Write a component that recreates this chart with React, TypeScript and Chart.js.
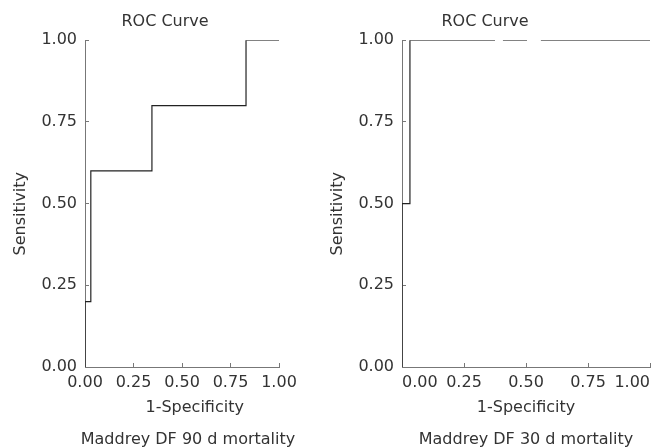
import React, { useEffect, useRef } from "react";
import { Chart, registerables } from "chart.js";

Chart.register(...registerables);

// ---- data ----
const tickValues = [0, 0.25, 0.5, 0.75, 1];
const tickLabels = ["0.00", "0.25", "0.50", "0.75", "1.00"];

// Left panel: Maddrey DF 90 d mortality
const fpr90 = [0, 0, 0.03, 0.345, 0.83, 1];
const tpr90 = [0, 0.2, 0.6, 0.8, 1, 1];

// Right panel: Maddrey DF 30 d mortality (gaps seen in the printed line)
const fpr30 = [0, 0, 0.032, 0.375, 0.39, 0.407, 0.504, 0.53, 0.56, 1];
const tpr30: (number | null)[] = [0, 0.5, 1, 1, null, 1, 1, null, 1, 1];

const chartTitle = "ROC Curve";
const yTitle = "Sensitivity";
const xTitle = "1-Specificity";
const caption90 = "Maddrey DF 90 d mortality";
const caption30 = "Maddrey DF 30 d mortality";

const FONT = "'DejaVu Sans', Verdana, sans-serif";
const TEXT = "#333";
const AXIS = "#777";

type PanelProps = {
  left: number;
  width: number;
  fpr: number[];
  tpr: (number | null)[];
  caption: string;
  captionShift: number;
  yAxisWidth: number;
  yTitlePad: number;
  padRight: number;
  xTitleText: string;
  tickAlign: "center" | "inner";
};

function Panel(p: PanelProps) {
  const ref = useRef<HTMLCanvasElement>(null);
  useEffect(() => {
    if (!ref.current) return;
    const pts = p.fpr.map((x, i) => ({ x, y: p.tpr[i] }));
    const captionPlugin = {
      id: "caption",
      afterDraw(chart: any) {
        const { ctx, chartArea } = chart;
        ctx.save();
        ctx.font = `16px ${FONT}`;
        ctx.fillStyle = TEXT;
        ctx.textAlign = "center";
        ctx.textBaseline = "middle";
        ctx.fillText(p.caption, (chartArea.left + chartArea.right) / 2 + p.captionShift, 440);
        ctx.restore();
      },
    };
    const chart = new Chart(ref.current, {
      type: "line",
      data: {
        datasets: [
          {
            data: pts as any,
            borderColor: "#222",
            borderWidth: 1.2,
            pointRadius: 0,
            stepped: "before",
            spanGaps: false,
            fill: false,
          },
        ],
      },
      plugins: [captionPlugin],
      options: {
        animation: false,
        responsive: false,
        devicePixelRatio: 1,
        layout: { padding: 0 },
        plugins: {
          legend: { display: false },
          tooltip: { enabled: false },
          title: {
            display: true,
            text: chartTitle,
            color: TEXT,
            font: { family: FONT, size: 16, lineHeight: 1.2, weight: "normal" },
            padding: { top: 12, bottom: 9 },
          },
        },
        scales: {
          x: {
            type: "linear",
            min: 0,
            max: 1,
            afterBuildTicks: (s: any) => {
              s.ticks = tickValues.map((v) => ({ value: v }));
            },
            afterFit: (s: any) => {
              s.height = 81;
              s.paddingLeft = 0;
              s.paddingRight = p.padRight;
            },
            grid: {
              drawOnChartArea: false,
              drawTicks: true,
              tickLength: -4,
              color: AXIS,
            },
            border: { color: AXIS, width: 1 },
            ticks: {
              color: TEXT,
              padding: 10,
              maxRotation: 0,
              autoSkip: false,
              align: p.tickAlign,
              font: { family: FONT, size: 16 },
              callback: (v: any) => tickLabels[tickValues.indexOf(Number(v))] ?? "",
            },
            title: {
              display: true,
              text: p.xTitleText,
              color: TEXT,
              font: { family: FONT, size: 16, lineHeight: 1 },
              padding: { top: 0, bottom: 32 },
            },
          },
          y: {
            type: "linear",
            min: 0,
            max: 1,
            afterBuildTicks: (s: any) => {
              s.ticks = tickValues.map((v) => ({ value: v }));
            },
            afterFit: (s: any) => {
              s.width = p.yAxisWidth;
              s.paddingTop = 0;
              s.paddingBottom = 0;
            },
            grid: {
              drawOnChartArea: false,
              drawTicks: true,
              tickLength: -4,
              color: AXIS,
            },
            border: { color: AXIS, width: 1 },
            ticks: {
              color: TEXT,
              padding: 12,
              autoSkip: false,
              font: { family: FONT, size: 16 },
              callback: (v: any) => tickLabels[tickValues.indexOf(Number(v))] ?? "",
            },
            title: {
              display: true,
              text: yTitle + "    ",
              color: TEXT,
              font: { family: FONT, size: 16, lineHeight: 1.2 },
              padding: { top: p.yTitlePad, bottom: 0 },
            },
          },
        },
      },
    });
    return () => chart.destroy();
  }, []);
  return (
    <canvas
      ref={ref}
      width={p.width}
      height={448}
      style={{ position: "absolute", left: p.left, top: 0, width: p.width, height: 448 }}
    />
  );
}

export default function App() {
  return (
    <div
      style={{
        position: "absolute",
        left: 0,
        top: 0,
        width: 657,
        height: 448,
        background: "#fff",
        overflow: "hidden",
      }}
    >
      <Panel
        left={0}
        width={330}
        fpr={fpr90}
        tpr={tpr90}
        caption={caption90}
        captionShift={6}
        yAxisWidth={85}
        yTitlePad={11}
        padRight={51}
        xTitleText={"     " + xTitle}
        tickAlign="center"
      />
      <Panel
        left={313}
        width={344}
        fpr={fpr30}
        tpr={tpr30}
        caption={caption30}
        captionShift={0}
        yAxisWidth={89}
        yTitlePad={15}
        padRight={7}
        xTitleText={xTitle}
        tickAlign="inner"
      />
    </div>
  );
}
